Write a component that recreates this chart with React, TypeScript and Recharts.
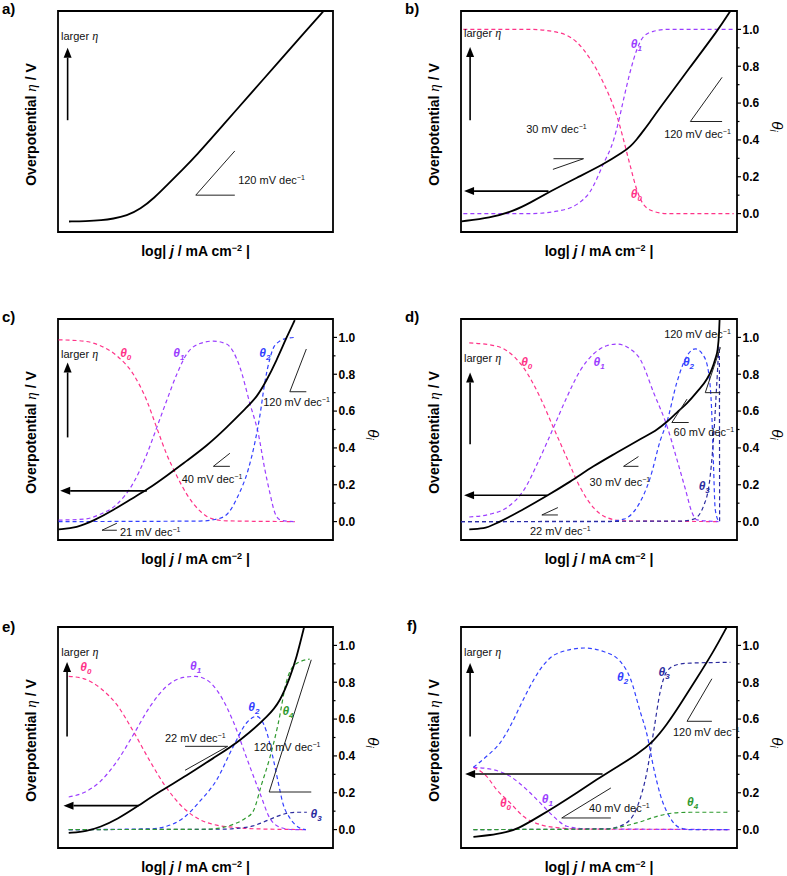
import React from 'react'
import { LineChart, Line, XAxis, YAxis, ReferenceLine, ReferenceDot, ReferenceArea } from 'recharts'

type Pt = [number, number]
type Seg = [number, number, number, number]
type Note = { x: number; y: number; t: 'larger' | 'slope' | 'theta'; s?: string; c?: string }

const SANS = '"Liberation Sans", Arial, sans-serif'
const SERIF = '"Liberation Serif", "Times New Roman", serif'
const PINK = '#ff3388'
const PURPLE = '#9b3dff'
const BLUE = '#3340ff'
const NAVY = '#2b2b9e'
const GREEN = '#2f9a2f'

const THETA_TICKS = [0, 0.1, 0.2, 0.3, 0.4, 0.5, 0.6, 0.7, 0.8, 0.9, 1.0]

// ---- a) ----
const A_ETA: Pt[] = [[4, -0.043], [10, -0.041], [16, -0.036], [20, -0.028], [25, -0.012], [30, 0.025], [35, 0.085], [40, 0.16], [45, 0.235], [50, 0.31], [60, 0.48], [70, 0.65], [80, 0.82], [90, 0.99], [96.6, 1.1]]
const A_SEGS: Seg[] = [[50.1, 0.1, 64.3, 0.1], [50.1, 0.1, 64.3, 0.34]]
const A_ARROWS: Seg[] = [[3.5, 0.507, 3.5, 0.9]]
const A_NOTES: Note[] = [
  { x: 1.1, y: 0.941, t: 'larger' },
  { x: 65.5, y: 0.163, t: 'slope', s: '120' },
]

// ---- b) ----
const B_ETA: Pt[] = [[0.2, -0.042], [10.5, -0.024], [19, 0.013], [25, 0.058], [32.3, 0.12], [42, 0.195], [51.6, 0.267], [58.9, 0.335], [61.3, 0.363], [63.7, 0.402], [66.1, 0.45], [68.6, 0.5], [71, 0.552], [83, 0.795], [93.3, 1.0], [97.6, 1.1]]
const B_TH0: Pt[] = [[0.85, 1.0], [25, 1.0], [34.7, 0.985], [42, 0.93], [46.8, 0.84], [51.6, 0.71], [55.3, 0.58], [57.1, 0.5], [58.9, 0.4], [61.3, 0.26], [63.7, 0.13], [66.1, 0.05], [69.8, 0.012], [74.6, 0], [98.8, 0]]
const B_TH1: Pt[] = [[0.85, 0], [25, 0], [34.7, 0.013], [42, 0.05], [46.8, 0.12], [51.6, 0.27], [55.3, 0.4], [57.1, 0.5], [58.9, 0.62], [61.3, 0.77], [63.7, 0.89], [66.1, 0.96], [69.8, 0.99], [74.6, 1.0], [98.8, 1.0]]
const B_SEGS: Seg[] = [[33.3, 0.24, 44.4, 0.298], [33.5, 0.298, 44.4, 0.298], [83.1, 0.5, 94.6, 0.5], [83.1, 0.5, 94.6, 0.74]]
const B_ARROWS: Seg[] = [[3.3, 0.507, 3.3, 0.904], [31.7, 0.122, 1.1, 0.122]]
const B_NOTES: Note[] = [
  { x: 1.1, y: 0.958, t: 'larger' },
  { x: 23.6, y: 0.44, t: 'slope', s: '30' },
  { x: 73.6, y: 0.41, t: 'slope', s: '120' },
  { x: 61.5, y: 0.9, t: 'theta', s: '1', c: PURPLE },
  { x: 61.5, y: 0.085, t: 'theta', s: '0', c: PINK },
]

// ---- c) ----
const C_ETA: Pt[] = [[0.2, -0.042], [6.9, -0.033], [12.9, 0.004], [20.2, 0.063], [27.4, 0.13], [32.3, 0.172], [39.5, 0.248], [46.8, 0.33], [54, 0.41], [61.3, 0.51], [68.6, 0.62], [72.2, 0.674], [75.8, 0.764], [79.4, 0.873], [83.1, 1.0], [86.1, 1.094]]
const C_TH0: Pt[] = [[0.2, 0.987], [9.3, 0.98], [15.4, 0.955], [21.4, 0.9], [27.4, 0.8], [32.3, 0.656], [35.9, 0.51], [39.5, 0.366], [43.2, 0.248], [46.8, 0.149], [51.6, 0.058], [56.5, 0.013], [61.3, 0.004], [86.1, 0]]
const C_TH1: Pt[] = [[0.2, 0.008], [9.3, 0.013], [15.4, 0.04], [21.4, 0.094], [27.4, 0.21], [32.3, 0.366], [35.9, 0.51], [39.5, 0.656], [43.2, 0.8], [46.8, 0.91], [51.6, 0.967], [56.5, 0.98], [61.3, 0.964], [66.1, 0.84], [69.8, 0.64], [72.8, 0.48], [75.2, 0.284], [77, 0.158], [78.8, 0.05], [80.7, 0.01], [83.1, 0.002], [86.1, 0]]
const C_TH2: Pt[] = [[0.2, 0], [51.6, 0.003], [56.5, 0.01], [60.7, 0.03], [65.5, 0.14], [69.2, 0.284], [71.6, 0.43], [73.4, 0.574], [75.2, 0.755], [77, 0.882], [78.8, 0.955], [83.1, 0.995], [86.1, 1.0]]
const C_SEGS: Seg[] = [[84.3, 0.705, 90.3, 0.705], [84.3, 0.705, 90.3, 0.937], [56.5, 0.3, 62.5, 0.3], [56.5, 0.3, 62.5, 0.371], [16, -0.047, 21.4, -0.047], [16, -0.047, 21.4, -0.009]]
const C_ARROWS: Seg[] = [[3.5, 0.457, 3.5, 0.864], [32.3, 0.167, 0.8, 0.167]]
const C_NOTES: Note[] = [
  { x: 1.1, y: 0.89, t: 'larger' },
  { x: 22.6, y: 0.895, t: 'theta', s: '0', c: PINK },
  { x: 41.9, y: 0.895, t: 'theta', s: '1', c: PURPLE },
  { x: 73.2, y: 0.895, t: 'theta', s: '2', c: BLUE },
  { x: 74.6, y: 0.629, t: 'slope', s: '120' },
  { x: 45, y: 0.208, t: 'slope', s: '40' },
  { x: 22.5, y: -0.078, t: 'slope', s: '21' },
]

// ---- d) ----
const D_ETA: Pt[] = [[3, -0.042], [8.1, -0.036], [14.1, 0], [22.6, 0.067], [31.1, 0.14], [39.5, 0.217], [48, 0.3], [56.5, 0.375], [64.9, 0.447], [71, 0.5], [74.6, 0.542], [78.2, 0.592], [81.9, 0.643], [85.5, 0.704], [89.1, 0.774], [90.9, 0.828], [92.1, 0.882], [93, 0.937], [93.5, 1.027], [93.7, 1.1]]
const D_TH0: Pt[] = [[3, 0.97], [10.5, 0.96], [16.6, 0.928], [22.6, 0.837], [28.7, 0.674], [33.5, 0.51], [38.3, 0.348], [43.2, 0.185], [48, 0.076], [52.8, 0.022], [58.9, 0.004], [93.3, 0]]
const D_TH1: Pt[] = [[3, 0.025], [10.5, 0.04], [16.6, 0.076], [22.6, 0.167], [28.7, 0.348], [33.5, 0.51], [38.3, 0.674], [43.2, 0.82], [48, 0.91], [52.8, 0.955], [56.5, 0.964], [61.3, 0.937], [64.9, 0.882], [69.8, 0.7], [74.6, 0.52], [78.2, 0.339], [81.3, 0.176], [83.7, 0.049], [85.5, 0.009], [93.3, 0]]
const D_TH2: Pt[] = [[0, 0], [52.8, 0], [58.9, 0.013], [63.7, 0.076], [68.6, 0.24], [72.2, 0.44], [74.6, 0.54], [78.2, 0.755], [81.9, 0.9], [84.9, 0.938], [87.9, 0.9], [89.7, 0.81], [90.9, 0.574], [91.5, 0.3], [92.1, 0.067], [93.3, 0.004], [93.6, 0]]
const D_TH3: Pt[] = [[0, 0], [80, 0.003], [84.3, 0.013], [87.9, 0.085], [90.3, 0.248], [91.8, 0.52], [92.7, 0.755], [93.6, 0.95], [93.7, 0]]
const D_SEGS: Seg[] = [[88.5, 0.7, 94, 0.7], [88.5, 0.7, 94, 0.946], [76.4, 0.538, 82.5, 0.538], [76.4, 0.538, 81.9, 0.665], [58.9, 0.3, 64.3, 0.3], [58.9, 0.3, 64.3, 0.353], [29.3, 0.036, 35.1, 0.036], [29.3, 0.036, 35.1, 0.076]]
const D_ARROWS: Seg[] = [[3.3, 0.42, 3.3, 0.81], [31.3, 0.143, 1.1, 0.143]]
const D_NOTES: Note[] = [
  { x: 1.1, y: 0.864, t: 'larger' },
  { x: 21.8, y: 0.846, t: 'theta', s: '0', c: PINK },
  { x: 48, y: 0.846, t: 'theta', s: '1', c: PURPLE },
  { x: 80.4, y: 0.846, t: 'theta', s: '2', c: BLUE },
  { x: 86.1, y: 0.17, t: 'theta', s: '3', c: NAVY },
  { x: 73.6, y: 0.996, t: 'slope', s: '120' },
  { x: 77, y: 0.466, t: 'slope', s: '60' },
  { x: 46.6, y: 0.194, t: 'slope', s: '30' },
  { x: 25, y: -0.072, t: 'slope', s: '22' },
]

// ---- e) ----
const E_ETA: Pt[] = [[3.9, -0.018], [10.5, -0.009], [15.4, 0.014], [21.4, 0.054], [29.3, 0.13], [37.1, 0.208], [46.8, 0.293], [56.5, 0.389], [66.1, 0.479], [77, 0.624], [80.7, 0.696], [84.3, 0.823], [86.7, 0.931], [89.5, 1.1]]
const E_TH0: Pt[] = [[3.9, 0.832], [9.3, 0.82], [15.4, 0.768], [21.4, 0.678], [27.4, 0.533], [33.5, 0.37], [39.5, 0.226], [45.6, 0.118], [51.6, 0.054], [57.7, 0.024], [63.7, 0.013], [69.8, 0.005], [90.1, 0]]
const E_TH1: Pt[] = [[3.9, 0.177], [9.3, 0.2], [15.4, 0.262], [21.4, 0.37], [27.4, 0.515], [33.5, 0.669], [39.5, 0.778], [45.6, 0.826], [49.8, 0.832], [54, 0.814], [58.9, 0.732], [63.7, 0.588], [68.6, 0.389], [73.4, 0.199], [77, 0.063], [80.7, 0.013], [85.5, 0], [90.1, 0]]
const E_TH2: Pt[] = [[3.9, 0], [33.5, 0.004], [39.5, 0.018], [45.6, 0.063], [51.6, 0.154], [57.7, 0.27], [63.7, 0.45], [68.6, 0.58], [72.2, 0.615], [75.8, 0.533], [78.2, 0.389], [80, 0.262], [81.9, 0.136], [84.3, 0.063], [87.9, 0.009], [90.1, 0]]
const E_TH3: Pt[] = [[3.9, 0], [60, 0.002], [66, 0.008], [71, 0.02], [74.6, 0.04], [79.4, 0.07], [83.1, 0.088], [86.7, 0.094], [90.5, 0.094]]
const E_TH4: Pt[] = [[3.9, 0], [54, 0.002], [60, 0.012], [64, 0.03], [68, 0.06], [71, 0.1], [74, 0.244], [77, 0.389], [80, 0.57], [83.1, 0.805], [86.1, 0.895], [91.5, 0.926]]
const E_SEGS: Seg[] = [[46.2, 0.452, 61.7, 0.452], [46.2, 0.322, 61.7, 0.452], [76.8, 0.204, 92.1, 0.204], [76.8, 0.204, 92.1, 0.922]]
const E_ARROWS: Seg[] = [[3.3, 0.506, 3.3, 0.91], [29.3, 0.13, 2, 0.13]]
const E_NOTES: Note[] = [
  { x: 1.2, y: 0.94, t: 'larger' },
  { x: 8.1, y: 0.859, t: 'theta', s: '0', c: PINK },
  { x: 48, y: 0.868, t: 'theta', s: '1', c: PURPLE },
  { x: 69.2, y: 0.642, t: 'theta', s: '2', c: BLUE },
  { x: 81.6, y: 0.62, t: 'theta', s: '4', c: GREEN },
  { x: 91.8, y: 0.063, t: 'theta', s: '3', c: NAVY },
  { x: 38.9, y: 0.476, t: 'slope', s: '22' },
  { x: 71.2, y: 0.425, t: 'slope', s: '120' },
]

// ---- f) ----
const F_ETA: Pt[] = [[4.5, -0.04], [10.5, -0.031], [16.6, -0.012], [20.2, 0], [28.7, 0.075], [34.7, 0.13], [42, 0.2], [49.2, 0.272], [56.5, 0.34], [63.7, 0.407], [69.8, 0.479], [74.6, 0.57], [79.4, 0.678], [85.5, 0.823], [91.5, 0.967], [96.3, 1.1]]
const F_TH0: Pt[] = [[4.5, 0.338], [9.3, 0.289], [12.9, 0.217], [17.8, 0.145], [22.6, 0.072], [28.7, 0.027], [35.9, 0.009], [42, 0.003], [97.6, 0]]
const F_TH1: Pt[] = [[4.5, 0.338], [11.7, 0.325], [17.8, 0.289], [23.8, 0.217], [28.7, 0.145], [33.5, 0.072], [38.3, 0.018], [44.7, 0.005], [97.6, 0]]
const F_TH2: Pt[] = [[4.5, 0.338], [9.3, 0.398], [14.1, 0.47], [17.8, 0.56], [21.4, 0.67], [24.4, 0.76], [28.7, 0.87], [34.7, 0.955], [44.7, 0.986], [51.6, 0.967], [57.7, 0.913], [61.3, 0.823], [64.9, 0.642], [67.4, 0.515], [69.8, 0.335], [72.2, 0.19], [75.8, 0.063], [79.4, 0.009], [83.1, 0], [97.6, 0]]
const F_TH3: Pt[] = [[4.5, 0], [52.8, 0.004], [58.9, 0.027], [63.7, 0.118], [67.4, 0.316], [69.8, 0.533], [72.2, 0.75], [74.6, 0.859], [78.2, 0.895], [83.1, 0.904], [97.6, 0.908]]
const F_TH4: Pt[] = [[4.5, 0], [52.8, 0.003], [58.9, 0.018], [64.9, 0.042], [71, 0.072], [77, 0.09], [83.1, 0.094], [97.6, 0.094]]
const F_SEGS: Seg[] = [[36.5, 0.063, 54.3, 0.063], [36.5, 0.063, 54.3, 0.226], [81.9, 0.588, 90.9, 0.588], [81.9, 0.588, 90.9, 0.819]]
const F_ARROWS: Seg[] = [[3.3, 0.506, 3.3, 0.904], [51.3, 0.302, 1.5, 0.302]]
const F_NOTES: Note[] = [
  { x: 1.1, y: 0.94, t: 'larger' },
  { x: 56.5, y: 0.805, t: 'theta', s: '2', c: BLUE },
  { x: 71.6, y: 0.832, t: 'theta', s: '3', c: NAVY },
  { x: 14.1, y: 0.121, t: 'theta', s: '0', c: PINK },
  { x: 29.3, y: 0.145, t: 'theta', s: '1', c: PURPLE },
  { x: 81.9, y: 0.127, t: 'theta', s: '4', c: GREEN },
  { x: 46.4, y: 0.096, t: 'slope', s: '40' },
  { x: 76.8, y: 0.506, t: 'slope', s: '120' },
]

type Theta = { pts: Pt[]; color: string }
type PanelDef = {
  tag: string; left: number; top: number; boxW: number; curve: 'basis' | 'monotone'
  eta: Pt[]; thetas: Theta[]; segs: Seg[]; arrows: Seg[]; notes: Note[]
}

const PANELS: PanelDef[] = [
  { tag: 'a)', left: 0, top: 0.5, boxW: 275, curve: 'basis', eta: A_ETA, thetas: [], segs: A_SEGS, arrows: A_ARROWS, notes: A_NOTES },
  { tag: 'b)', left: 403, top: 0.5, boxW: 276, curve: 'basis', eta: B_ETA, thetas: [{ pts: B_TH0, color: PINK }, { pts: B_TH1, color: PURPLE }], segs: B_SEGS, arrows: B_ARROWS, notes: B_NOTES },
  { tag: 'c)', left: 0, top: 308.5, boxW: 275, curve: 'basis', eta: C_ETA, thetas: [{ pts: C_TH0, color: PINK }, { pts: C_TH1, color: PURPLE }, { pts: C_TH2, color: BLUE }], segs: C_SEGS, arrows: C_ARROWS, notes: C_NOTES },
  { tag: 'd)', left: 403, top: 308.5, boxW: 276, curve: 'monotone', eta: D_ETA, thetas: [{ pts: D_TH0, color: PINK }, { pts: D_TH1, color: PURPLE }, { pts: D_TH2, color: BLUE }, { pts: D_TH3, color: NAVY }], segs: D_SEGS, arrows: D_ARROWS, notes: D_NOTES },
  { tag: 'e)', left: 0, top: 617, boxW: 275, curve: 'basis', eta: E_ETA, thetas: [{ pts: E_TH0, color: PINK }, { pts: E_TH1, color: PURPLE }, { pts: E_TH2, color: BLUE }, { pts: E_TH3, color: NAVY }, { pts: E_TH4, color: GREEN }], segs: E_SEGS, arrows: E_ARROWS, notes: E_NOTES },
  { tag: 'f)', left: 403, top: 617, boxW: 276, curve: 'basis', eta: F_ETA, thetas: [{ pts: F_TH0, color: PINK }, { pts: F_TH1, color: PURPLE }, { pts: F_TH2, color: BLUE }, { pts: F_TH3, color: NAVY }, { pts: F_TH4, color: GREEN }], segs: F_SEGS, arrows: F_ARROWS, notes: F_NOTES },
]

const toObj = (p: Pt[]) => p.map(([x, y]) => ({ x, y }))

function Arrow(props: any) {
  const { x1, y1, x2, y2 } = props
  const dx = x2 - x1
  const dy = y2 - y1
  const len = Math.hypot(dx, dy) || 1
  const ux = dx / len
  const uy = dy / len
  const hl = 10
  const hw = 4
  const bx = x2 - ux * hl
  const by = y2 - uy * hl
  return (
    <g>
      <line x1={x1} y1={y1} x2={bx} y2={by} stroke="#000" strokeWidth={1.6} />
      <polygon points={`${x2},${y2} ${bx - uy * hw},${by + ux * hw} ${bx + uy * hw},${by - ux * hw}`} fill="#000" />
    </g>
  )
}

function NoteText({ cx, cy, n }: { cx: number; cy: number; n: Note }) {
  if (n.t === 'larger') {
    return (
      <text x={cx} y={cy} fontSize={11} fontFamily={SANS} fill="#111">
        {'larger '}
        <tspan fontStyle="italic" fontFamily={SERIF} fontSize={12}>η</tspan>
      </text>
    )
  }
  if (n.t === 'slope') {
    return (
      <text x={cx} y={cy} fontSize={11} fontFamily={SANS} fill="#111">
        {n.s + ' mV dec'}
        <tspan dy={-4} fontSize={7}>−1</tspan>
      </text>
    )
  }
  return (
    <text x={cx} y={cy} fontSize={12} fontFamily={SANS} fontStyle="italic" fontWeight="bold" fill={n.c}>
      θ<tspan dy={3} fontSize={8}>{n.s}</tspan>
    </text>
  )
}

function ThetaTick(props: any) {
  const { x, y, payload } = props
  const v = payload.value as number
  const major = Math.round(v * 10) % 2 === 0
  return (
    <g>
      <line x1={x} y1={y} x2={x + (major ? 4 : 2.5)} y2={y} stroke="#000" strokeWidth={1.2} />
      {major && (
        <text x={x + 5.5} y={y} dy="0.36em" fontSize={12} fontWeight="bold" fontFamily={SANS} fill="#000">
          {v.toFixed(1)}
        </text>
      )}
    </g>
  )
}

function XTitle(props: any) {
  const vb = props.viewBox || {}
  return (
    <text x={vb.x + vb.width / 2} y={vb.y + 24} textAnchor="middle" fontFamily={SANS} fontSize={14} fontWeight="bold" fill="#000">
      {'log| '}
      <tspan fontStyle="italic">j</tspan>
      {' / mA cm'}
      <tspan dy={-5} fontSize={9}>−2</tspan>
      <tspan dy={5}>{' |'}</tspan>
    </text>
  )
}

function EtaTitle(props: any) {
  const vb = props.viewBox || {}
  const cx = vb.x + 31
  const cy = vb.y + vb.height / 2 + 3
  return (
    <text x={cx} y={cy} transform={`rotate(-90 ${cx} ${cy})`} textAnchor="middle" dominantBaseline="central" fontFamily={SANS} fontSize={14} fontWeight="bold" fill="#000">
      {'Overpotential '}
      <tspan fontStyle="italic" fontWeight="normal" fontFamily={SERIF} fontSize={15}>η</tspan>
      {' / V'}
    </text>
  )
}

function ThetaTitle(props: any) {
  const vb = props.viewBox || {}
  const cx = vb.x + 40
  const cy = vb.y + vb.height / 2 + 5
  return (
    <text x={cx} y={cy} transform={`rotate(90 ${cx} ${cy})`} textAnchor="middle" dominantBaseline="central" fontFamily={SANS} fontSize={15} fontStyle="italic" fill="#000">
      θ<tspan dy={3} fontSize={10}>i</tspan>
    </text>
  )
}

function Panel({ p }: { p: PanelDef }) {
  const hasTheta = p.thetas.length > 0
  const w = 58 + p.boxW + 50
  return (
    <div style={{ position: 'absolute', left: p.left, top: p.top }}>
      <LineChart width={w} height={271} margin={{ top: 10, right: hasTheta ? 0 : 50, bottom: 0, left: 0 }}>
        <XAxis type="number" dataKey="x" domain={[0, 100]} allowDataOverflow tick={false} tickLine={false} axisLine={false} height={40} label={{ content: XTitle }} />
        <YAxis yAxisId="eta" type="number" domain={[-0.1, 1.1]} allowDataOverflow width={58} tick={false} tickLine={false} axisLine={false} label={{ content: EtaTitle }} />
        {hasTheta && (
          <YAxis
            yAxisId="th"
            orientation="right"
            type="number"
            domain={[-0.1, 1.1]}
            allowDataOverflow
            width={50}
            ticks={THETA_TICKS}
            interval={0}
            tickSize={0}
            tickMargin={0}
            tickLine={false}
            axisLine={false}
            tick={<ThetaTick />}
            label={{ content: ThetaTitle }}
          />
        )}
        {p.thetas.map((s, i) => (
          <Line
            key={'t' + i}
            yAxisId="th"
            data={toObj(s.pts)}
            dataKey="y"
            type="monotone"
            stroke={s.color}
            strokeWidth={1.2}
            strokeDasharray="4 3"
            dot={false}
            activeDot={false}
            isAnimationActive={false}
          />
        ))}
        <Line
          yAxisId="eta"
          data={toObj(p.eta)}
          dataKey="y"
          type={p.curve}
          stroke="#000"
          strokeWidth={1.8}
          dot={false}
          activeDot={false}
          isAnimationActive={false}
        />
        {p.segs.map((s, i) => (
          <ReferenceLine
            key={'s' + i}
            yAxisId="eta"
            segment={[{ x: s[0], y: s[1] }, { x: s[2], y: s[3] }]}
            stroke="#222"
            strokeWidth={1}
          />
        ))}
        {p.arrows.map((s, i) => (
          <ReferenceLine
            key={'a' + i}
            yAxisId="eta"
            segment={[{ x: s[0], y: s[1] }, { x: s[2], y: s[3] }]}
            shape={(props: any) => <Arrow {...props} />}
          />
        ))}
        {p.notes.map((n, i) => (
          <ReferenceDot
            key={'n' + i}
            yAxisId="eta"
            x={n.x}
            y={n.y}
            r={0}
            shape={(props: any) => <NoteText cx={props.cx} cy={props.cy} n={n} />}
          />
        ))}
        <ReferenceArea yAxisId="eta" x1={0} x2={100} y1={-0.1} y2={1.1} fill="none" fillOpacity={0} stroke="#000" strokeWidth={1.8} />
      </LineChart>
    </div>
  )
}

const LETTER_POS = [
  [2, 1], [405, 1], [2, 309], [405, 309], [2, 619], [407, 618],
]

export default function App() {
  return (
    <div style={{ position: 'absolute', left: 0, top: 0, width: 787, height: 876, background: '#fff', overflow: 'hidden' }}>
      {PANELS.map((p, i) => (
        <React.Fragment key={p.tag}>
          <div style={{ position: 'absolute', left: LETTER_POS[i][0], top: LETTER_POS[i][1], fontFamily: SANS, fontWeight: 'bold', fontSize: 15, lineHeight: '15px' }}>
            {p.tag}
          </div>
          <Panel p={p} />
        </React.Fragment>
      ))}
    </div>
  )
}
